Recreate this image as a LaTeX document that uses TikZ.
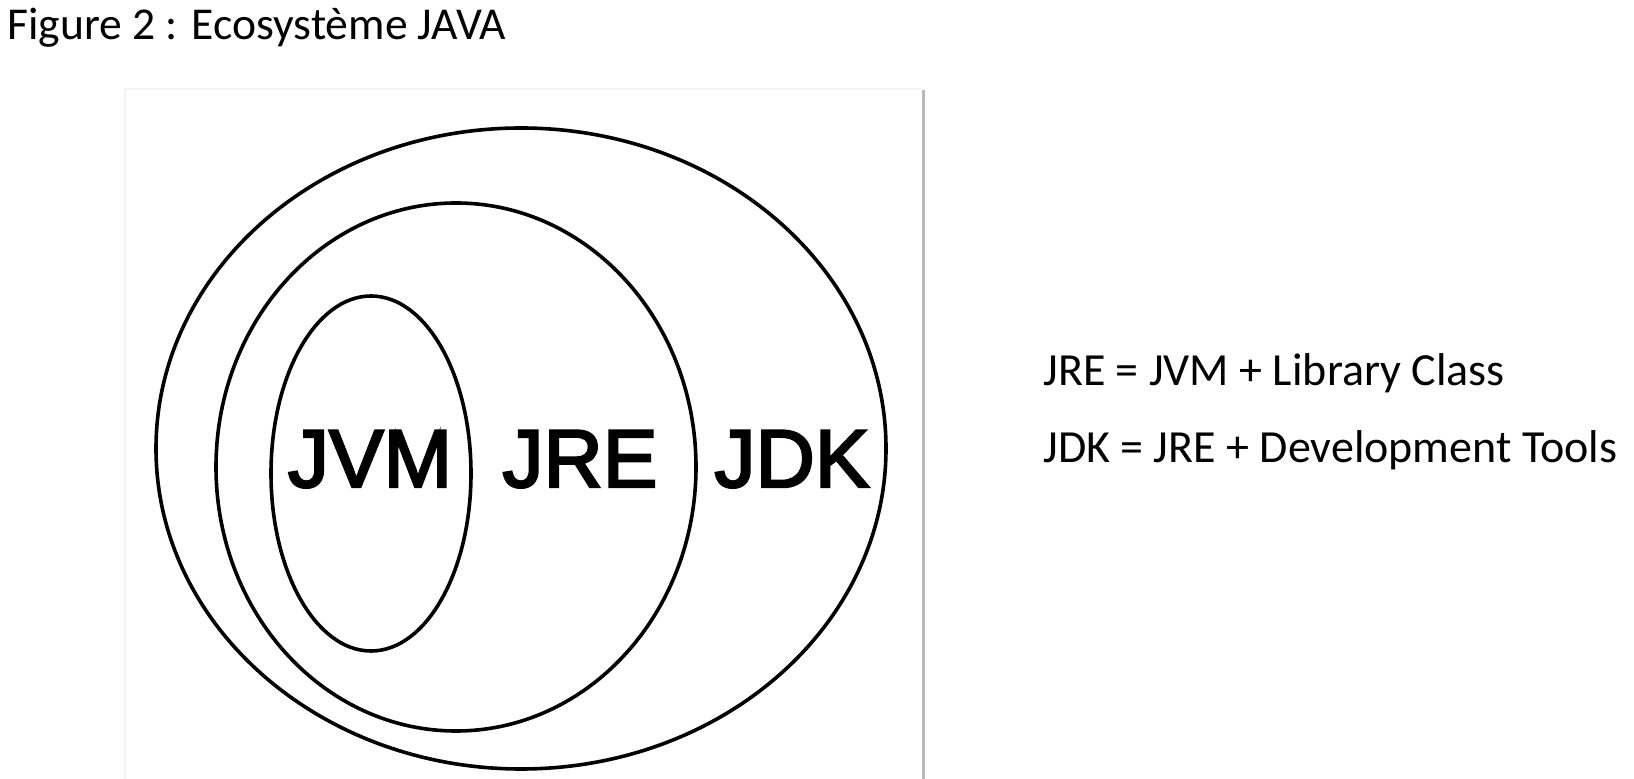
\documentclass[tikz,border=0pt]{standalone}
\usepackage{fontspec}
\setmainfont{Carlito}
\newfontfamily\arialf[FakeBold=3]{Liberation Sans}
\usetikzlibrary{shapes.geometric}
\begin{document}
\begin{tikzpicture}[x=0.5pt,y=-0.5pt,
  ring/.style={ellipse,draw=black,line width=1.8pt,inner sep=0pt,outer sep=0pt},
  biglabel/.style={font=\arialf\fontsize{41}{41}\selectfont,inner sep=0pt,anchor=base},
  txt/.style={font=\fontsize{23}{23}\selectfont,inner sep=0pt,anchor=base west}]
\useasboundingbox (0,0) rectangle (1634,779);
\fill[white] (0,0) rectangle (1634,779);
% picture frame
\draw[gray!10,line width=1pt] (125,779) -- (125,89) -- (923,89);
\draw[gray!55,line width=1.5pt] (923,90) -- (923,779);
% title
\node[txt,font=\fontsize{22.8}{23}\selectfont] (title) at (7,40) {Figure 2 : Ecosystème JAVA};
% ellipses (sizes in pt = px/2)
\node[ring,minimum width=365pt,minimum height=320.5pt] (jdk) at (521,448.5) {};
\node[ring,minimum width=240pt,minimum height=264pt] (jre) at (456,467) {};
\node[ring,minimum width=100pt,minimum height=177.5pt] (jvm) at (371,473.5) {};
% labels
\node[biglabel] (ljvm) at (370,487) {JVM};
\node[biglabel] (ljre) at (580,487) {JRE};
\node[biglabel] (ljdk) at (792,487) {JDK};
% right text
\node[txt] (eq1) at (1043,385.5) {JRE = JVM + Library Class};
\node[txt] (eq2) at (1043,462.5) {JDK = JRE + Development Tools};
\end{tikzpicture}
\end{document}
